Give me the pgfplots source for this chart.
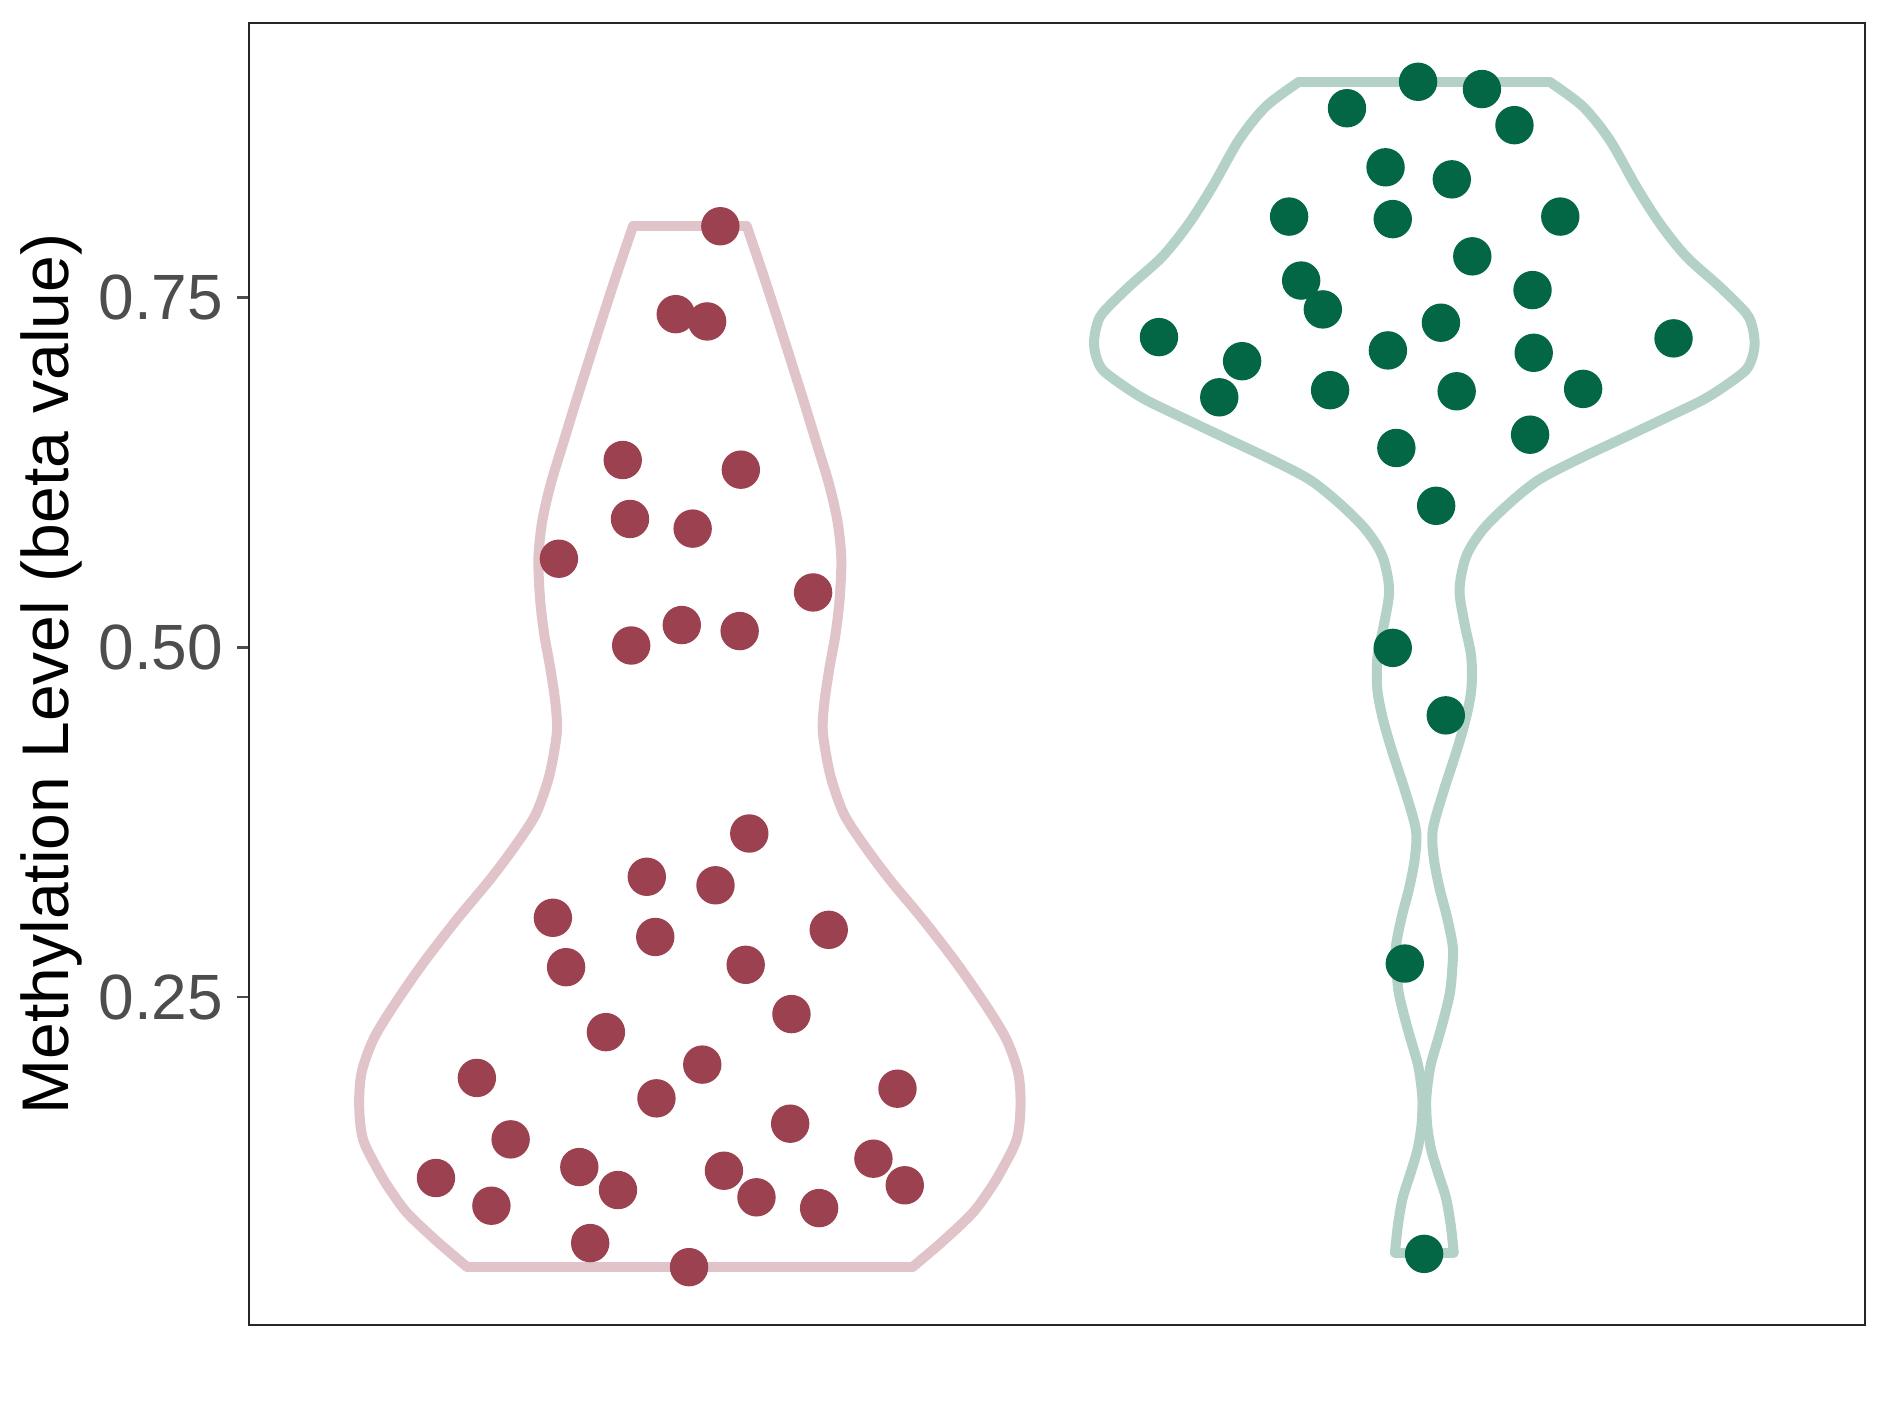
\documentclass[border=0pt]{standalone}
\usepackage{fontspec}
\setmainfont{Liberation Sans}
\usepackage{pgfplots}
\usepackage{pgfplotstable}
\pgfplotsset{compat=1.18}
\usetikzlibrary{calc}
\definecolor{redpt}{HTML}{9B4150}
\definecolor{redvio}{HTML}{E0C4C9}
\definecolor{grnpt}{HTML}{036745}
\definecolor{grnvio}{HTML}{B3D1C7}
\definecolor{ticktxt}{HTML}{4D4D4D}

% violin half-widths (y, w)
\pgfplotstableread{
y w
0.0572 0.3030
0.0760 0.3450
0.0954 0.3840
0.1100 0.4050
0.1244 0.4222
0.1482 0.4448
0.1720 0.4502
0.1958 0.4471
0.2196 0.4312
0.2435 0.4039
0.2744 0.3631
0.3053 0.3177
0.3339 0.2724
0.3580 0.2380
0.3796 0.2110
0.4000 0.1960
0.4161 0.1880
0.4400 0.1810
0.4600 0.1830
0.4850 0.1900
0.5100 0.1985
0.5350 0.2040
0.5635 0.2062
0.5900 0.2010
0.6171 0.1892
0.6450 0.1730
0.6758 0.1550
0.7040 0.1380
0.7319 0.1211
0.7660 0.1000
0.8010 0.0773
}\violinA

\pgfplotstableread{
y w
0.0676 0.0400
0.0870 0.0360
0.1064 0.0296
0.1240 0.0190
0.1410 0.0094
0.1580 0.0040
0.1756 0.0025
0.1900 0.0050
0.2033 0.0094
0.2280 0.0230
0.2517 0.0343
0.2700 0.0380
0.2863 0.0387
0.3070 0.0310
0.3279 0.0207
0.3490 0.0130
0.3695 0.0115
0.3970 0.0260
0.4249 0.0433
0.4480 0.0560
0.4699 0.0640
0.4935 0.0638
0.5173 0.0546
0.5411 0.0479
0.5649 0.0569
0.5840 0.0796
0.6030 0.1160
0.6197 0.1560
0.6340 0.2080
0.6483 0.2658
0.6630 0.3250
0.6768 0.3793
0.6880 0.4130
0.6983 0.4382
0.7080 0.4470
0.7173 0.4497
0.7280 0.4470
0.7387 0.4382
0.7577 0.4020
0.7792 0.3565
0.8030 0.3203
0.8292 0.2884
0.8626 0.2522
0.8864 0.2157
0.9040 0.1705
}\violinB

\pgfplotstableread{
x y
1.0415 0.8008
0.9808 0.7380
1.0235 0.7328
0.9086 0.6338
1.0694 0.6269
0.9185 0.5917
1.0038 0.5848
0.8217 0.5633
1.1678 0.5392
0.9201 0.5013
0.9890 0.5159
1.0678 0.5116
1.0809 0.3670
0.9414 0.3361
1.0349 0.3300
0.8135 0.3068
1.1891 0.2982
0.9529 0.2931
0.8315 0.2715
1.0760 0.2732
1.1383 0.2380
0.8857 0.2251
1.0169 0.2019
0.7100 0.1924
1.2827 0.1847
0.9545 0.1778
1.1366 0.1597
0.7560 0.1485
0.6543 0.1209
0.8495 0.1287
1.2499 0.1347
1.0464 0.1261
0.9021 0.1123
1.2926 0.1157
0.7298 0.1011
1.0907 0.1071
1.1760 0.0994
0.8643 0.0744
0.9989 0.0572
}\pointsA

\pgfplotstableread{
x y
1.9915 0.9040
2.0784 0.8988
1.8947 0.8851
2.1227 0.8730
1.9472 0.8429
2.0374 0.8343
1.8159 0.8077
1.9570 0.8059
2.1851 0.8077
2.0653 0.7793
1.8323 0.7620
2.1473 0.7552
1.8618 0.7414
1.6387 0.7216
2.0226 0.7319
2.3393 0.7207
1.7519 0.7044
1.9504 0.7121
2.1489 0.7104
1.7208 0.6786
1.8717 0.6837
2.0440 0.6829
2.2162 0.6846
2.1440 0.6519
1.9619 0.6424
2.0161 0.6011
1.9570 0.4996
2.0292 0.4514
1.9734 0.2741
1.9997 0.0667
}\pointsB

\begin{document}
\begin{tikzpicture}
\begin{axis}[
    scale only axis,
    width=404pt, height=325.5pt,
    xmin=0.4, xmax=2.6,
    ymin=0.016, ymax=0.946,
    xtick=\empty,
    ytick={0.25,0.5,0.75},
    yticklabels={0.25,0.50,0.75},
    tickpos=left,
    tick align=outside,
    major tick length=3pt,
    every tick/.style={black!70, line width=0.6pt},
    axis line style={black!85, line width=0.6pt},
    yticklabel style={font=\fontsize{16}{19}\selectfont, text=ticktxt},
    ylabel={Methylation Level (beta value)},
    ylabel style={font=\fontsize{16.5}{20}\selectfont, at={(axis description cs:-0.1225,0.5)}, anchor=center},
    clip=false,
]
% violin outlines
\addplot[redvio, line width=2.5pt, line cap=round, line join=round, smooth] table[x expr=1-\thisrow{w}, y=y] {\violinA};
\addplot[redvio, line width=2.5pt, line cap=round, line join=round, smooth] table[x expr=1+\thisrow{w}, y=y] {\violinA};
\addplot[redvio, line width=2.5pt, line cap=round] coordinates {(0.9227,0.8010) (1.0773,0.8010)};
\addplot[redvio, line width=2.5pt, line cap=round] coordinates {(0.6970,0.0572) (1.3030,0.0572)};
\addplot[grnvio, line width=2.5pt, line cap=round, line join=round, smooth] table[x expr=2-\thisrow{w}, y=y] {\violinB};
\addplot[grnvio, line width=2.5pt, line cap=round, line join=round, smooth] table[x expr=2+\thisrow{w}, y=y] {\violinB};
\addplot[grnvio, line width=2.5pt, line cap=round] coordinates {(1.8295,0.9040) (2.1705,0.9040)};
\addplot[grnvio, line width=2.5pt, line cap=round] coordinates {(1.9600,0.0676) (2.0400,0.0676)};
% points
\addplot[only marks, mark=*, mark size=4.6pt, redpt, mark options={draw=none, fill=redpt}] table {\pointsA};
\addplot[only marks, mark=*, mark size=4.6pt, grnpt, mark options={draw=none, fill=grnpt}] table {\pointsB};
\end{axis}
\pgfresetboundingbox
\path ($(current axis.south west)+(-62.3pt,-23pt)$) rectangle ($(current axis.north east)+(6pt,5.75pt)$);
\end{tikzpicture}
\end{document}
